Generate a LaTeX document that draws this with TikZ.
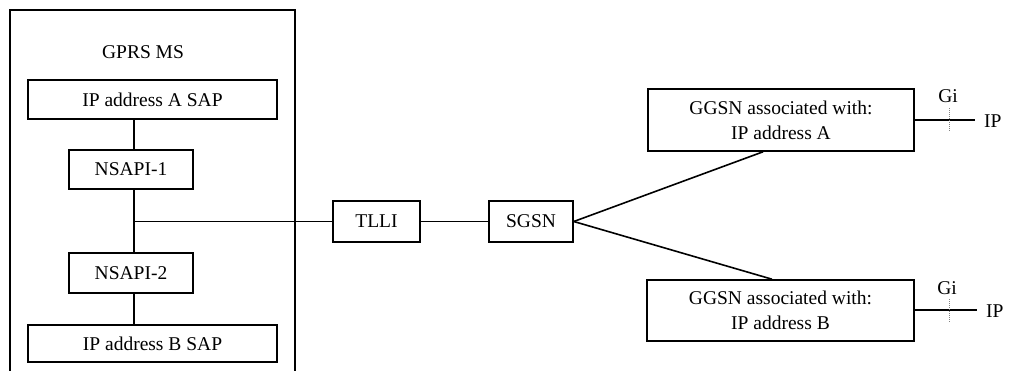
\documentclass[tikz,border=0pt]{standalone}
\usepackage{fontspec}
\setmainfont{Liberation Serif}
\begin{document}
\begin{tikzpicture}[x=1pt,y=-1pt,
  every node/.style={font=\fontsize{19.5}{25}\selectfont},
  box/.style={draw,line width=1.6pt,inner sep=0pt,align=center},
  ln/.style={line width=1.6pt},
  gi/.style={line width=1pt,densely dotted,gray}]
\useasboundingbox (0,0) rectangle (1012,370);
\draw[ln] (10,372) -- (10,10) -- (295,10) -- (295,372);
\node (ms) at (143,52) {GPRS MS};
\node[box,minimum width=249pt,minimum height=39pt] (ipa) at (152.5,99.5) {IP address A SAP};
\node[box,minimum width=124pt,minimum height=39pt] (n1) at (131,169.5) {NSAPI-1};
\node[box,minimum width=124pt,minimum height=40pt] (n2) at (131,273) {NSAPI-2};
\node[box,minimum width=249pt,minimum height=37pt] (ipb) at (152.5,343.5) {IP address B SAP};
\coordinate (j) at (134,221.5);
\node[box,minimum width=87pt,minimum height=41pt] (tlli) at (376.5,221.5) {TLLI};
\node[box,minimum width=84pt,minimum height=41pt] (sgsn) at (531,221.5) {SGSN};
\node[box,minimum width=266pt,minimum height=62pt] (ga) at (781,120) {GGSN associated with:\\IP address A};
\node[box,minimum width=267pt,minimum height=61pt] (gb) at (780.5,310.5) {GGSN associated with:\\IP address B};
\draw[ln] (j |- ipa.south) -- (j |- n1.north);
\draw[ln] (j |- n1.south) -- (j |- n2.north);
\draw[ln] (j |- n2.south) -- (j |- ipb.north);
\draw[ln] (j) -- (tlli.west);
\draw[ln] (tlli.east) -- (sgsn.west);
\draw[ln] (sgsn.east) -- ([xshift=-18pt]ga.south);
\draw[ln] (sgsn.east) -- ([xshift=-8.5pt]gb.north);
% Gi A
\node[inner sep=0pt,anchor=west] (ipA) at (984,121) {IP};
\coordinate (eA) at (975,120);
\draw[ln] (ga.east |- eA) -- (eA);
\node[inner sep=0pt] (giA) at (948,96) {Gi};
\coordinate (dA) at (949,132);
\draw[gi] (949,108) -- (dA);
% Gi B
\node[inner sep=0pt,anchor=west] (ipB) at (986,311) {IP};
\coordinate (eB) at (977,310);
\draw[ln] (gb.east |- eB) -- (eB);
\node[inner sep=0pt] (giB) at (947,288) {Gi};
\coordinate (dB) at (949,323);
\draw[gi] (949,299) -- (dB);
\end{tikzpicture}
\end{document}
